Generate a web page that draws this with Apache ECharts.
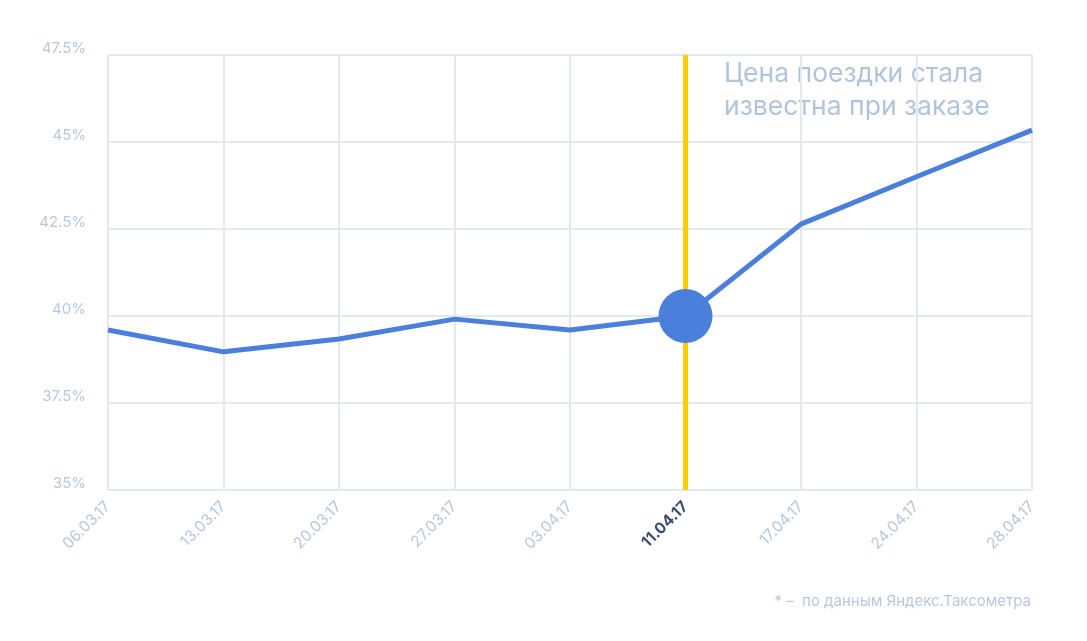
<!DOCTYPE html>
<html><head><meta charset="utf-8">
<script src="https://cdn.jsdelivr.net/npm/echarts@6/dist/echarts.min.js"></script>
<style>html,body{margin:0;padding:0;background:#fff}#c{width:1087px;height:641px}</style>
</head><body><div id="c"></div>
<script>
const categories = ['06.03.17','13.03.17','20.03.17','27.03.17','03.04.17','11.04.17','17.04.17','24.04.17','28.04.17'];
const values = [39.6, 38.97, 39.34, 39.91, 39.6, 40.0, 42.64, 44.0, 45.34];
const yTicks = ['35%','37.5%','40%','42.5%','45%','47.5%'];
const highlight = '11.04.17';
const note = 'Цена поездки стала\nизвестна при заказе';
const footnote = '* –  по данным Яндекс.Таксометра';

const chart = echarts.init(document.getElementById('c'));
chart.setOption({
  animation: false,
  textStyle: {fontFamily: 'Inter, "Noto Sans", sans-serif'},
  grid: {left: 108, right: 55, top: 55, bottom: 151},
  xAxis: {
    type: 'category', data: categories, boundaryGap: false,
    axisLine: {show: false}, axisTick: {show: false},
    splitLine: {show: true, lineStyle: {color: '#e4e9f0', width: 2}},
    axisLabel: {
      rotate: 45, margin: 14, fontSize: 15.5, color: '#b7c8dc',
      formatter: v => v === highlight ? '{h|' + v + '}' : v,
      rich: {h: {color: '#3b4d6b', fontWeight: 'bold', fontSize: 15.5}}
    }
  },
  yAxis: {
    type: 'value', min: 35, max: 47.5, interval: 2.5,
    axisLine: {show: false}, axisTick: {show: false},
    splitLine: {lineStyle: {color: '#e4e9f0', width: 2}},
    axisLabel: {color: '#b7c8dc', fontSize: 15, margin: 22, verticalAlign: 'bottom', padding: [0,0,-1,0],
      formatter: v => yTicks[Math.round((v - 35) / 2.5)]}
  },
  series: [{
    type: 'line', data: values.map((v, i) => categories[i] === highlight ?
      {value: v, symbol: 'circle', symbolSize: 54, itemStyle: {color: '#4a7fdb'}} : {value: v, symbol: 'none'}),
    lineStyle: {color: '#4a7fdb', width: 5}, itemStyle: {color: '#4a7fdb'},
    showSymbol: true, z: 3,
    markLine: {
      silent: true, symbol: 'none', label: {show: false},
      lineStyle: {color: '#ffcc00', width: 5, type: 'solid'},
      data: [{xAxis: highlight}], z: 2
    }
  }],
  graphic: [
    {type: 'text', left: 724, top: 58, style: {text: note, fill: '#b0c4db', fontSize: 26.5, lineHeight: 33, fontFamily: 'Inter, "Noto Sans", sans-serif'}},
    {type: 'text', right: 56, top: 594, style: {text: footnote, fill: '#b7c8dc', fontSize: 15, fontFamily: 'Inter, "Noto Sans", sans-serif'}}
  ]
});
</script></body></html>
